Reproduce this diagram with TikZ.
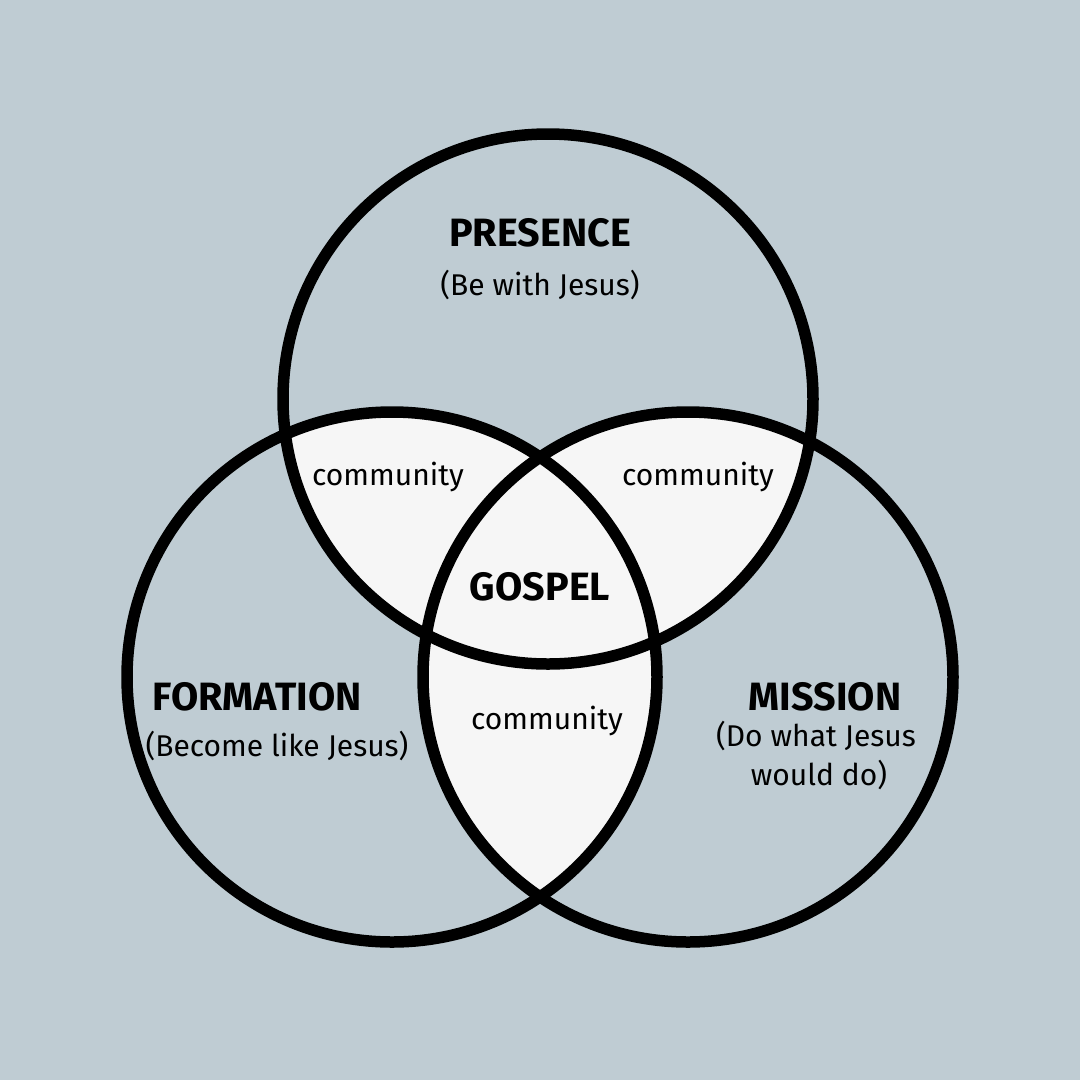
\documentclass[tikz,border=0pt]{standalone}
\usepackage{fontspec}
\setmainfont{Fira Sans}
\definecolor{bgc}{RGB}{191,204,211}
\definecolor{lightc}{RGB}{246,246,246}
\tikzset{
  ring/.style={draw=black, line width=11.5pt},
  title/.style={font=\bfseries\fontsize{39.5}{46}\selectfont, inner sep=0pt, anchor=base},
  sub/.style={font=\fontsize{30}{38}\selectfont, inner sep=0pt, anchor=base, align=center},
}
\begin{document}
\begin{tikzpicture}[x=1pt,y=-1pt]
  \fill[bgc] (0,0) rectangle (1080,1080);
  \useasboundingbox (0,0) rectangle (1080,1080);
  \coordinate (cT) at (548,399);
  \coordinate (cL) at (392,677);
  \coordinate (cR) at (688,677);
  % pairwise intersections
  \begin{scope}
    \clip (cT) circle[radius=265pt];
    \fill[lightc] (cL) circle[radius=265pt];
    \fill[lightc] (cR) circle[radius=265pt];
  \end{scope}
  \begin{scope}
    \clip (cL) circle[radius=265pt];
    \fill[lightc] (cR) circle[radius=265pt];
  \end{scope}
  \draw[ring] (cT) circle[radius=265pt];
  \draw[ring] (cL) circle[radius=265pt];
  \draw[ring] (cR) circle[radius=265pt];
  % labels
  \node[title] (presence) at (540,246) {PRESENCE};
  \node[sub] (presSub) at (540,295) {(Be with Jesus)};
  \node[sub] (commL) at (388,485) {community};
  \node[sub] (commR) at (698,485) {community};
  \node[title] (gospel) at (540,600) {GOSPEL};
  \node[sub] (commB) at (547,729) {community};
  \node[title] (formation) at (257,710) {FORMATION};
  \node[sub] (formSub) at (277,756) {(Become like Jesus)};
  \node[title] (mission) at (825,710) {MISSION};
  \node[sub] (missSub1) at (816,746) {(Do what Jesus};
  \node[sub] (missSub2) at (819,785) {would do)};
\end{tikzpicture}
\end{document}
